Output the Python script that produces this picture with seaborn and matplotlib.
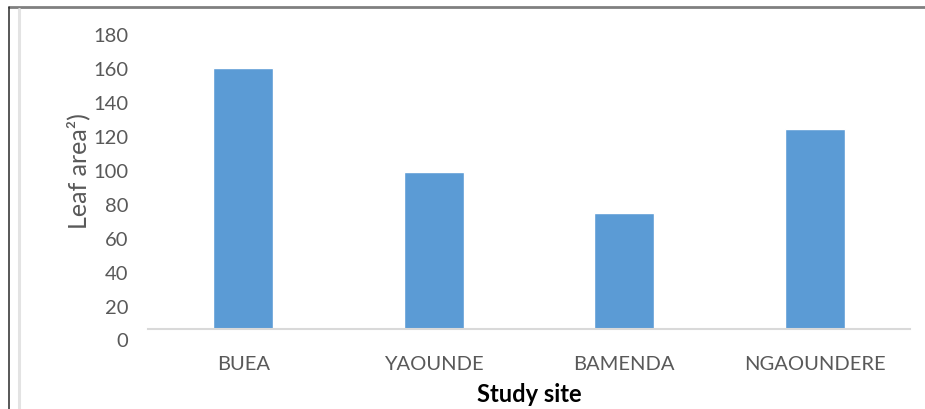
import matplotlib
matplotlib.use("Agg")
import matplotlib.pyplot as plt
import matplotlib.lines as mlines
import matplotlib.transforms as mtransforms
import seaborn as sns
import pandas as pd

# Mean leaf area per study site
sites = ["BUEA", "YAOUNDE", "BAMENDA", "NGAOUNDERE"]
leaf_area = [160, 99, 75, 124]
y_ticks = [0, 20, 40, 60, 80, 100, 120, 140, 160, 180]

df = pd.DataFrame({"site": sites, "leaf_area": leaf_area})

sns.set_theme(style="white")
plt.rcParams["font.family"] = ["Lato", "DejaVu Sans"]

fig = plt.figure(figsize=(9.25, 4.10), dpi=100)
ax = fig.add_axes([148 / 925, 80 / 410, 762 / 925, 310 / 410])

sns.barplot(data=df, x="site", y="leaf_area", color="#5B9BD5",
            width=0.316, saturation=1, ax=ax)

label_color = "#595959"
tick_size = 14.5
ax.set_yticks(y_ticks[1:])
ax.set_yticklabels([str(t) for t in y_ticks[1:]])
ax.set_ylim(6.5, 188.8)
ax.set_xlim(-0.5, len(sites) - 0.5)

ax.tick_params(axis="y", length=0, pad=14.4, labelsize=tick_size, labelcolor=label_color)
ax.tick_params(axis="x", length=0, pad=19, labelsize=tick_size, labelcolor=label_color)
# the zero value sits just below the axis floor
ax.text(-20 / 762, y_ticks[0], str(y_ticks[0]),
        transform=mtransforms.blended_transform_factory(ax.transAxes, ax.transData),
        ha="right", va="center", fontsize=tick_size, color=label_color, clip_on=False)

for s in ["top", "right", "left"]:
    ax.spines[s].set_visible(False)
ax.spines["bottom"].set_color("#D9D9D9")
ax.spines["bottom"].set_linewidth(1.5)

ax.set_xlabel("Study site", fontsize=17, fontweight="bold", color="black", labelpad=7)
ax.set_ylabel("")
fig.text(78 / 925, 1 - 171 / 410, "Leaf area\u00b2)", rotation=90, ha="center", va="center",
         fontsize=18, color=label_color)

# frame lines around the chart
fig.add_artist(mlines.Line2D([9 / 925, 1.0], [1 - 8 / 410, 1 - 8 / 410],
                             color="#808080", linewidth=2, transform=fig.transFigure))
fig.add_artist(mlines.Line2D([9 / 925, 9 / 925], [0, 1 - 8 / 410],
                             color="#2A2A2A", linewidth=1.1, transform=fig.transFigure))
fig.add_artist(mlines.Line2D([18.5 / 925, 18.5 / 925], [0, 1 - 10 / 410],
                             color="#E3E3E3", linewidth=2.2, transform=fig.transFigure))

fig.savefig("out.png", dpi=100)
